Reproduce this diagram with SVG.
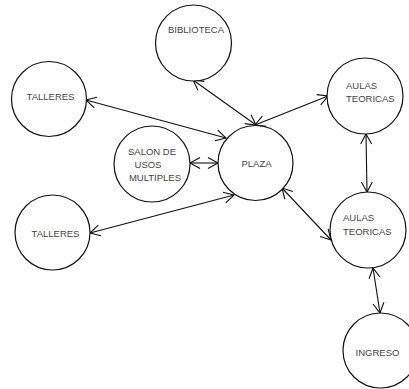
<svg xmlns="http://www.w3.org/2000/svg" width="409" height="389" viewBox="0 0 409 389">
<style>
.node circle{fill:#fff;stroke:#111;stroke-width:1.2}
.node text{font-family:"Liberation Sans",Arial,sans-serif;font-size:9.5px;fill:#444}
.conn line{stroke:#111;stroke-width:1.1;fill:none;marker-start:url(#ah);marker-end:url(#ah)}
</style>
<defs>
<marker id="ah" markerUnits="userSpaceOnUse" viewBox="-12 -7 14 14" refX="0" refY="0" markerWidth="14" markerHeight="14" orient="auto-start-reverse">
<path d="M-10,-5.5 L0,0 L-10,5.5" fill="none" stroke="#111" stroke-width="1.1"/>
</marker>
</defs>
<rect width="409" height="389" fill="#fff"/>
<g id="connectors" class="conn">
<line x1="86" y1="100" x2="226" y2="138"/>
<line x1="190" y1="163" x2="218" y2="163"/>
<line x1="90" y1="233" x2="234" y2="195"/>
<line x1="193" y1="80" x2="256" y2="125"/>
<line x1="255" y1="125" x2="328" y2="96"/>
<line x1="282" y1="188" x2="331" y2="240"/>
<line x1="366" y1="134" x2="367" y2="192"/>
<line x1="373" y1="268" x2="380" y2="313"/>
</g>
<g id="biblioteca" class="node"><circle cx="193.5" cy="43" r="38"/><text x="196" y="33" text-anchor="middle">BIBLIOTECA</text></g>
<g id="talleres1" class="node"><circle cx="49" cy="99" r="37.5"/><text x="50.5" y="100" text-anchor="middle">TALLERES</text></g>
<g id="salon" class="node"><circle cx="152" cy="164" r="38"/><text x="152" y="155" text-anchor="middle">SALON DE</text><text x="148" y="168" text-anchor="middle">USOS</text><text x="155" y="181" text-anchor="middle">MULTIPLES</text></g>
<g id="plaza" class="node"><circle cx="255.5" cy="163" r="37.5"/><text x="256.5" y="166.5" text-anchor="middle">PLAZA</text></g>
<g id="aulas1" class="node"><circle cx="365" cy="96" r="38"/><text x="346" y="89">AULAS</text><text x="346" y="102">TEORICAS</text></g>
<g id="talleres2" class="node"><circle cx="52.5" cy="232.5" r="37.5"/><text x="55.5" y="237" text-anchor="middle">TALLERES</text></g>
<g id="aulas2" class="node"><circle cx="368" cy="230" r="38"/><text x="343" y="221">AULAS</text><text x="343" y="235">TEORICAS</text></g>
<g id="ingreso" class="node"><circle cx="380.5" cy="350.5" r="37.5"/><text x="377.5" y="356" text-anchor="middle">INGRESO</text></g>
</svg>
